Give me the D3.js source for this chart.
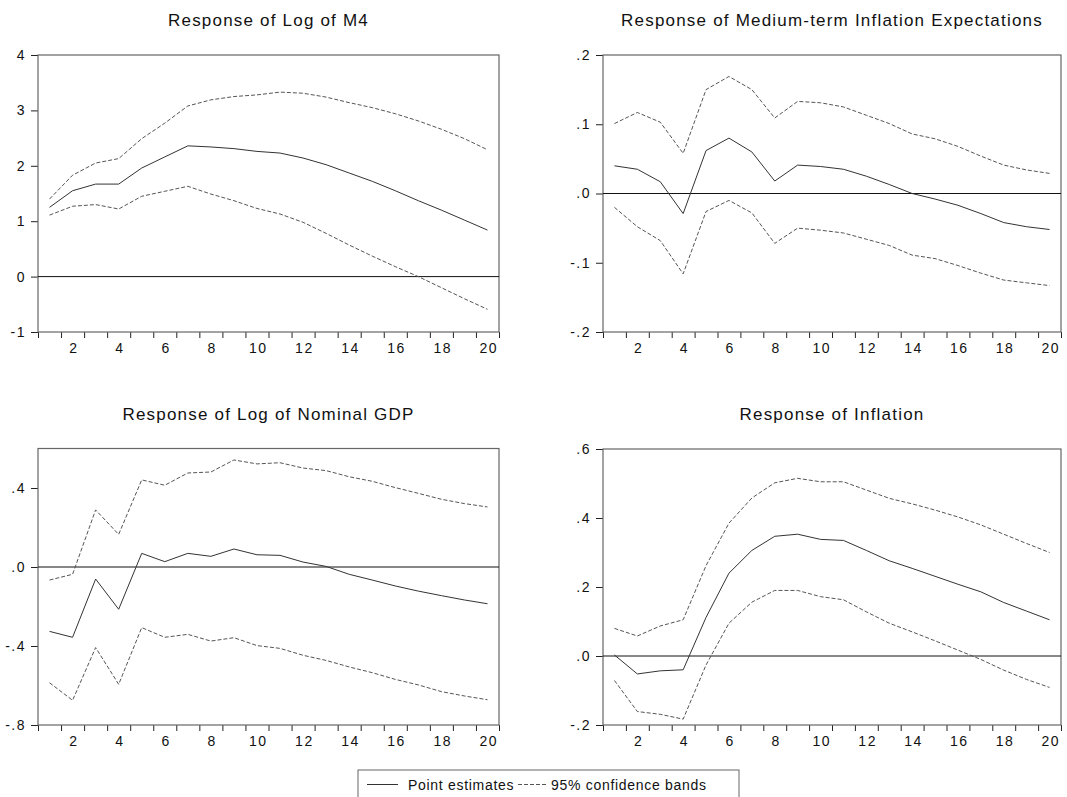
<!DOCTYPE html>
<html>
<head>
<meta charset="utf-8">
<script src="https://cdn.jsdelivr.net/npm/d3@7"></script>
<style>
	body { margin: 0; background: #fff; }
	svg { display: block; font-family: "Liberation Sans", Arial, sans-serif; }
	.title { font-size: 17px; letter-spacing: 1.2px; fill: #111; }
	.tick text { font-size: 14px; letter-spacing: 1.5px; fill: #111; }
	.legend-text { font-size: 14px; letter-spacing: 0.7px; fill: #111; }
</style>
</head>
<body>
<svg id="chart" width="1067" height="797"></svg>
<script>
// horizons
const periods = d3.range(1, 21);
const xLabels = [2, 4, 6, 8, 10, 12, 14, 16, 18, 20];

// Response of Log of M4
const m4Point = [1.25, 1.55, 1.67, 1.67, 1.96, 2.16, 2.36, 2.34, 2.31, 2.26, 2.23, 2.14, 2.02, 1.87, 1.72, 1.55, 1.37, 1.20, 1.02, 0.84];
const m4Upper = [1.40, 1.83, 2.05, 2.13, 2.49, 2.77, 3.08, 3.19, 3.25, 3.28, 3.33, 3.31, 3.24, 3.14, 3.05, 2.94, 2.81, 2.66, 2.49, 2.29];
const m4Lower = [1.11, 1.27, 1.30, 1.22, 1.45, 1.54, 1.63, 1.49, 1.37, 1.23, 1.13, 0.98, 0.78, 0.57, 0.37, 0.18, 0.00, -0.20, -0.40, -0.59];
const m4Ticks = [-1, 0, 1, 2, 3, 4];

// Response of Medium-term Inflation Expectations
const expPoint = [0.040, 0.035, 0.017, -0.029, 0.062, 0.080, 0.060, 0.018, 0.041, 0.039, 0.035, 0.025, 0.013, 0.000, -0.008, -0.017, -0.029, -0.042, -0.048, -0.052];
const expUpper = [0.101, 0.117, 0.103, 0.058, 0.150, 0.169, 0.150, 0.109, 0.133, 0.131, 0.125, 0.113, 0.101, 0.086, 0.079, 0.068, 0.054, 0.041, 0.034, 0.029];
const expLower = [-0.020, -0.048, -0.068, -0.116, -0.026, -0.010, -0.028, -0.072, -0.050, -0.053, -0.057, -0.066, -0.075, -0.089, -0.094, -0.104, -0.115, -0.125, -0.129, -0.133];
const expTicks = [-0.2, -0.1, 0, 0.1, 0.2];

// Response of Log of Nominal GDP
const gdpPoint = [-0.326, -0.356, -0.061, -0.214, 0.069, 0.027, 0.069, 0.054, 0.091, 0.062, 0.059, 0.025, 0.003, -0.037, -0.066, -0.096, -0.122, -0.145, -0.167, -0.186];
const gdpUpper = [-0.066, -0.037, 0.289, 0.165, 0.441, 0.414, 0.476, 0.481, 0.542, 0.522, 0.528, 0.501, 0.488, 0.457, 0.434, 0.402, 0.373, 0.343, 0.321, 0.304];
const gdpLower = [-0.586, -0.675, -0.408, -0.594, -0.307, -0.356, -0.341, -0.375, -0.358, -0.398, -0.412, -0.447, -0.473, -0.506, -0.535, -0.569, -0.597, -0.631, -0.653, -0.672];
const gdpTicks = [-0.8, -0.4, 0, 0.4];

// Response of Inflation
const infPoint = [0.003, -0.052, -0.043, -0.040, 0.112, 0.240, 0.306, 0.347, 0.353, 0.338, 0.335, 0.306, 0.276, 0.254, 0.231, 0.208, 0.186, 0.155, 0.130, 0.105];
const infUpper = [0.080, 0.058, 0.087, 0.105, 0.262, 0.385, 0.458, 0.502, 0.515, 0.505, 0.505, 0.481, 0.457, 0.441, 0.423, 0.403, 0.380, 0.353, 0.326, 0.300];
const infLower = [-0.071, -0.161, -0.169, -0.183, -0.026, 0.095, 0.156, 0.190, 0.190, 0.172, 0.163, 0.128, 0.095, 0.070, 0.044, 0.017, -0.010, -0.041, -0.068, -0.091];
const infTicks = [-0.2, 0, 0.2, 0.4, 0.6];

// eviews style labels: plain hyphen, no leading zero (.2, -.1, .0)
const intFormat = v => d3.format("d")(v).replace("\u2212", "-");
const fracFormat = v => d3.format(".1f")(v).replace("\u2212", "-").replace(/^(-?)0\./, "$1.");

const panels = [
	{title: "Response of Log of M4", point: m4Point, upper: m4Upper, lower: m4Lower,
	 domain: [-1, 4], ticks: m4Ticks, fmt: intFormat, box: [38, 499, 55, 332]},
	{title: "Response of Medium-term Inflation Expectations", point: expPoint, upper: expUpper, lower: expLower,
	 domain: [-0.2, 0.2], ticks: expTicks, fmt: fracFormat, box: [603, 1061, 55, 332]},
	{title: "Response of Log of Nominal GDP", point: gdpPoint, upper: gdpUpper, lower: gdpLower,
	 domain: [-0.8, 0.6], ticks: gdpTicks, fmt: fracFormat, box: [38, 499, 448.5, 725]},
	{title: "Response of Inflation", point: infPoint, upper: infUpper, lower: infLower,
	 domain: [-0.2, 0.6], ticks: infTicks, fmt: fracFormat, box: [603, 1061, 449, 725]}
];

const svg = d3.select("#chart");

panels.forEach(p => drawPanel(p));
drawLegend();

function drawPanel(p) {
	const [left, right, top, bottom] = p.box;
	const x = d3.scaleLinear().domain([0.5, 20.5]).range([left, right]);
	const y = d3.scaleLinear().domain(p.domain).range([bottom, top]);
	const g = svg.append("g");

	g.append("text")
		.attr("class", "title")
		.attr("x", (left + right) / 2)
		.attr("y", top - 29)
		.attr("text-anchor", "middle")
		.text(p.title);

	// tick marks between horizons
	g.append("g")
		.attr("transform", `translate(0,${bottom})`)
		.call(d3.axisBottom(x).tickValues(d3.range(0.5, 21, 1)).tickSize(6).tickFormat(""))
		.call(a => a.select(".domain").remove())
		.call(a => a.selectAll("line").attr("stroke", "#222"));

	// horizon labels
	g.append("g")
		.attr("transform", `translate(0.8,${bottom})`)
		.call(d3.axisBottom(x).tickValues(xLabels).tickSize(0).tickPadding(11))
		.call(a => a.select(".domain").remove());

	g.append("g")
		.attr("transform", `translate(${left},0)`)
		.call(d3.axisLeft(y).tickValues(p.ticks).tickFormat(p.fmt).tickSize(7).tickPadding(5))
		.call(a => a.select(".domain").remove())
		.call(a => a.selectAll("line").attr("stroke", "#222"));

	// frame
	g.append("rect")
		.attr("x", left).attr("y", top)
		.attr("width", right - left).attr("height", bottom - top)
		.attr("fill", "none")
		.attr("stroke", "#666")
		.attr("stroke-width", 1.2);

	// zero line
	g.append("line")
		.attr("x1", left).attr("x2", right)
		.attr("y1", y(0)).attr("y2", y(0))
		.attr("stroke", "#111")
		.attr("stroke-width", 1);

	const line = d3.line()
		.x((d, i) => x(periods[i]))
		.y(d => y(d));

	[p.upper, p.lower].forEach(band => {
		g.append("path")
			.datum(band)
			.attr("d", line)
			.attr("fill", "none")
			.attr("stroke", "#555")
			.attr("stroke-width", 1)
			.attr("stroke-dasharray", "4,2");
	});

	g.append("path")
		.datum(p.point)
		.attr("d", line)
		.attr("fill", "none")
		.attr("stroke", "#333")
		.attr("stroke-width", 1);
}

function drawLegend() {
	const g = svg.append("g");
	g.append("rect")
		.attr("x", 358).attr("y", 770)
		.attr("width", 381).attr("height", 40)
		.attr("fill", "none")
		.attr("stroke", "#666");

	g.append("line")
		.attr("x1", 367).attr("x2", 398)
		.attr("y1", 784.5).attr("y2", 784.5)
		.attr("stroke", "#333");
	g.append("text")
		.attr("class", "legend-text")
		.attr("x", 408).attr("y", 789.5)
		.text("Point estimates");

	g.append("line")
		.attr("x1", 518).attr("x2", 547)
		.attr("y1", 784.5).attr("y2", 784.5)
		.attr("stroke", "#555")
		.attr("stroke-dasharray", "4,2");
	g.append("text")
		.attr("class", "legend-text")
		.attr("x", 551).attr("y", 789.5)
		.text("95% confidence bands");
}
</script>
</body>
</html>
